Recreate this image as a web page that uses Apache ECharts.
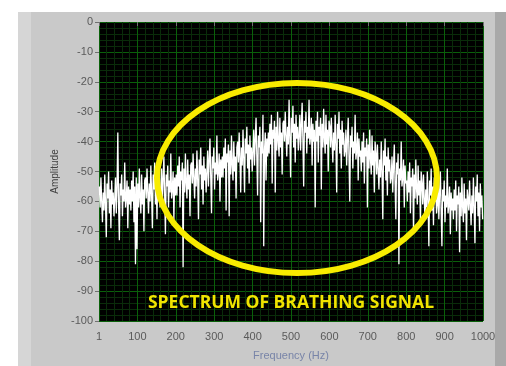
<!DOCTYPE html>
<html>
<head>
<meta charset="utf-8">
<script src="https://cdn.jsdelivr.net/npm/echarts@6/dist/echarts.min.js"></script>
<style>
  html, body { margin: 0; padding: 0; background: #ffffff; }
  #chart { width: 506px; height: 366px; }
</style>
</head>
<body>
<div id="chart"></div>
<script>
// Spectrum bins: first bin frequency and bin spacing (Hz)
const binStartHz = 1;
const binWidthHz = 2;

// Amplitude of each bin (dB), low to high frequency, 20 bins per row
const amplitudeDb = [
  -55, -62, -52, -60, -67, -57, -63, -51, -61, -72, -54, -59, -50, -64, -56, -69, -53, -61, -57, -65,
  -59, -52, -64, -55, -37, -61, -73, -54, -58, -51, -65, -56, -60, -47, -62, -59, -53, -69, -55, -61,
  -56, -63, -53, -60, -50, -67, -55, -81, -52, -76, -54, -62, -49, -59, -64, -51, -61, -56, -70, -53,
  -52, -59, -49, -57, -64, -54, -60, -48, -58, -69, -51, -56, -47, -61, -53, -66, -50, -58, -54, -62,
  -56, -49, -61, -52, -45, -58, -71, -51, -55, -48, -62, -53, -57, -44, -59, -56, -50, -66, -52, -58,
  -51, -58, -48, -55, -45, -62, -50, -53, -47, -82, -49, -57, -44, -54, -59, -46, -56, -51, -65, -48,
  -47, -54, -44, -52, -59, -49, -55, -43, -53, -66, -46, -51, -42, -56, -48, -61, -45, -53, -49, -57,
  -50, -43, -55, -46, -39, -52, -64, -45, -49, -42, -56, -47, -51, -38, -53, -50, -44, -60, -46, -52,
  -45, -52, -42, -49, -39, -63, -44, -47, -41, -65, -43, -51, -38, -48, -53, -40, -50, -45, -59, -42,
  -40, -47, -37, -45, -57, -42, -48, -36, -46, -57, -39, -44, -35, -49, -41, -54, -38, -46, -42, -50,
  -43, -36, -48, -39, -32, -45, -58, -38, -42, -35, -67, -40, -44, -31, -75, -43, -37, -53, -39, -45,
  -37, -44, -34, -41, -31, -54, -36, -39, -33, -57, -35, -43, -30, -40, -45, -32, -42, -37, -51, -34,
  -33, -40, -30, -38, -45, -35, -41, -26, -39, -52, -32, -37, -28, -42, -34, -47, -31, -39, -35, -43,
  -38, -31, -43, -34, -27, -40, -55, -33, -37, -30, -44, -35, -39, -26, -41, -38, -32, -48, -34, -40,
  -36, -62, -33, -40, -30, -47, -35, -38, -32, -56, -34, -42, -29, -39, -44, -31, -41, -36, -50, -33,
  -35, -42, -32, -40, -47, -37, -43, -31, -41, -57, -34, -39, -30, -44, -36, -49, -33, -41, -37, -45,
  -43, -36, -48, -39, -32, -45, -60, -38, -42, -35, -49, -40, -44, -31, -46, -43, -37, -53, -39, -45,
  -43, -50, -40, -47, -37, -54, -42, -45, -39, -62, -41, -49, -36, -46, -51, -38, -48, -43, -57, -40,
  -44, -51, -41, -49, -56, -46, -52, -40, -50, -66, -43, -48, -39, -53, -45, -58, -42, -50, -46, -54,
  -52, -45, -57, -48, -41, -54, -66, -47, -51, -44, -81, -49, -53, -40, -55, -52, -46, -62, -48, -54,
  -53, -60, -50, -57, -47, -64, -52, -55, -49, -70, -51, -59, -46, -56, -61, -48, -58, -53, -67, -50,
  -54, -61, -51, -59, -66, -56, -62, -50, -60, -75, -53, -58, -49, -63, -55, -68, -52, -60, -56, -64,
  -61, -54, -66, -57, -50, -63, -75, -56, -60, -53, -67, -58, -62, -49, -64, -61, -55, -71, -57, -63,
  -59, -66, -56, -63, -53, -70, -58, -61, -55, -77, -57, -65, -52, -62, -67, -54, -64, -59, -73, -56,
  -56, -63, -53, -61, -68, -58, -64, -52, -62, -74, -55, -60, -51, -65, -57, -70, -54, -62, -58, -66
];

// Axis ranges and labels
const freqMin = 0, freqMax = 1000, freqStep = 100;
const ampMin = -100, ampMax = 0, ampStep = 10;
const xTitle = 'Frequency (Hz)';
const yTitle = 'Amplitude';
const caption = 'SPECTRUM OF BRATHING SIGNAL';

const points = amplitudeDb.map((v, i) => [binStartHz + i * binWidthHz, v]);

const chart = echarts.init(document.getElementById('chart'), null, { renderer: 'canvas' });

const labelFont = { color: '#5a5a5a', fontSize: 11, fontFamily: 'Liberation Sans' };
const majorGrid = { show: true, lineStyle: { color: '#0a600a', width: 1 } };
const minorGrid = { show: true, lineStyle: { color: '#0a2c0a', width: 1 } };

chart.setOption({
  animation: false,
  backgroundColor: '#ffffff',
  grid: {
    left: 99, top: 22, width: 384, height: 310,
    show: true, backgroundColor: '#000000', borderWidth: 0
  },
  xAxis: {
    type: 'value',
    min: freqMin, max: freqMax, interval: freqStep,
    name: xTitle, nameLocation: 'middle', nameGap: 29,
    nameTextStyle: { color: '#7884a8', fontSize: 11, fontFamily: 'Liberation Sans' },
    axisLine: { show: false },
    axisTick: { show: true, length: 4, inside: false, lineStyle: { color: '#707070' } },
    axisLabel: Object.assign({ margin: 10, formatter: v => (v === 0 ? '1' : String(v)) }, labelFont),
    splitLine: majorGrid,
    minorTick: { show: false, splitNumber: 5 },
    minorSplitLine: minorGrid
  },
  yAxis: {
    type: 'value',
    min: ampMin, max: ampMax, interval: ampStep,
    name: yTitle, nameLocation: 'middle', nameGap: 33, nameRotate: 90,
    nameTextStyle: { color: '#404040', fontSize: 10, fontFamily: 'Liberation Sans' },
    axisLine: { show: false },
    axisTick: { show: true, length: 4, lineStyle: { color: '#707070' } },
    axisLabel: Object.assign({ margin: 6 }, labelFont),
    splitLine: majorGrid,
    minorTick: { show: false, splitNumber: 5 },
    minorSplitLine: minorGrid
  },
  series: [{
    type: 'line',
    data: points,
    showSymbol: false,
    symbol: 'none',
    lineStyle: { color: '#ffffff', width: 1.3 },
    z: 3
  }],
  graphic: [
    // panel frame
    { type: 'rect', z: -10, silent: true, shape: { x: 18, y: 12, width: 488, height: 354 }, style: { fill: '#c9c9c9' } },
    { type: 'rect', z: -9, silent: true, shape: { x: 18, y: 12, width: 13, height: 354 }, style: { fill: '#d6d6d6' } },
    { type: 'rect', z: -9, silent: true, shape: { x: 495, y: 12, width: 11, height: 354 }, style: { fill: '#a9a9a9' } },
    // highlighted region
    { type: 'ellipse', z: 100, silent: true, shape: { cx: 297, cy: 178, rx: 140, ry: 95 },
      style: { fill: 'none', stroke: '#f8ec00', lineWidth: 6 } },
    { type: 'text', z: 100, silent: true, x: 291, y: 303,
      style: { text: caption, fill: '#f0e400', font: 'bold 17.5px "Open Sans"', align: 'center', verticalAlign: 'middle' } }
  ]
});
</script>
</body>
</html>
